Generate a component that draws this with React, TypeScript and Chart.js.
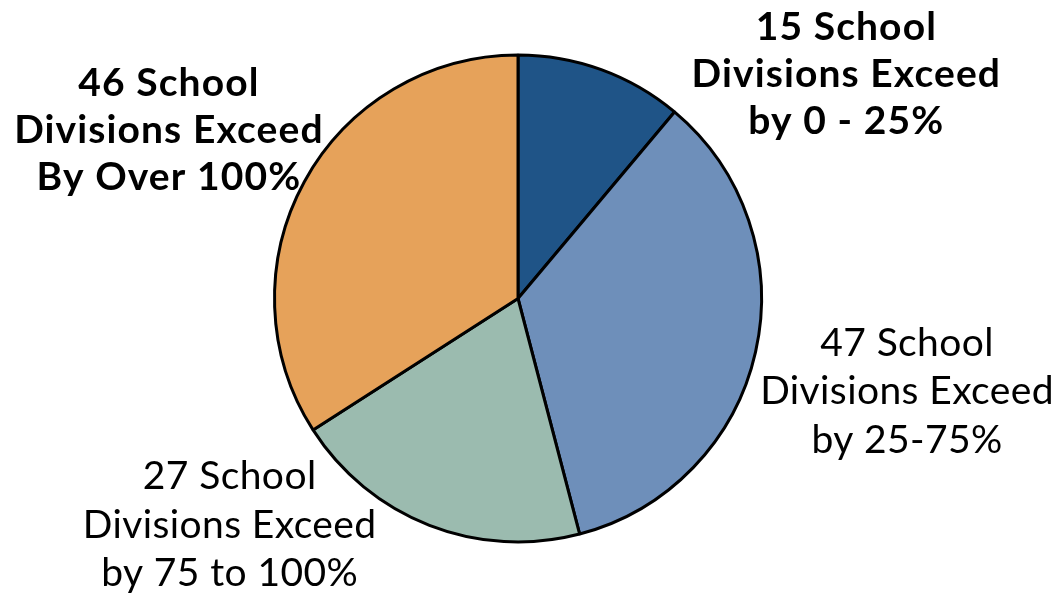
import React, { useEffect, useRef } from "react";
import { Chart, registerables } from "chart.js";

Chart.register(...registerables);

const categories = [
  ["15 School", "Divisions Exceed", "by 0 - 25%"],
  ["47 School", "Divisions Exceed", "by 25-75%"],
  ["27 School", "Divisions Exceed", "by 75 to 100%"],
  ["46 School", "Divisions Exceed", "By Over 100%"],
];
const values = [15, 47, 27, 46];
const colors = ["#1F5487", "#6E8FBA", "#9BBBAF", "#E6A25A"];
const boldLabels = [true, false, false, true];
// label anchors in units of pie radius relative to the pie centre
const labelAnchors = [
  [1.346, -0.922],
  [1.597, 0.383],
  [-1.185, 0.93],
  [-1.436, -0.691],
];

const labelPlugin = {
  id: "sliceLabels",
  afterDraw(chart: any) {
    const meta = chart.getDatasetMeta(0);
    const arc = meta.data[0];
    if (!arc) return;
    const cx = arc.x;
    const cy = arc.y;
    const r = arc.outerRadius;
    const ctx = chart.ctx;
    ctx.save();
    ctx.fillStyle = "#000";
    ctx.textAlign = "center";
    ctx.textBaseline = "middle";
    categories.forEach((lines, i) => {
      const bold = boldLabels[i];
      ctx.font = (bold ? "bold " : "") + "39px Lato";
      const sp = bold ? 1.1 : 0.4;
      (ctx as any).letterSpacing = sp + "px";
      const lh = bold ? 47 : 48.5;
      const x = cx + labelAnchors[i][0] * r + sp / 2;
      const y = cy + labelAnchors[i][1] * r;
      lines.forEach((t, j) => {
        ctx.fillText(t, x, y + (j - 1) * lh);
      });
    });
    ctx.restore();
  },
};

export default function App() {
  const ref = useRef<HTMLCanvasElement>(null);
  useEffect(() => {
    document.body.style.margin = "0";
    const chart = new Chart(ref.current!, {
      type: "pie",
      data: {
        labels: categories.map((c) => c.join(" ")),
        datasets: [
          {
            data: values,
            backgroundColor: colors,
            borderColor: "#000",
            borderWidth: 3,
          },
        ],
      },
      options: {
        responsive: false,
        animation: false,
        layout: { padding: { top: 53, bottom: 56, left: 273, right: 300 } },
        plugins: { legend: { display: false }, tooltip: { enabled: false } },
      },
      plugins: [labelPlugin],
    });
    return () => chart.destroy();
  }, []);
  return (
    <div style={{ width: 1063, height: 600 }}>
      <canvas ref={ref} width={1063} height={600} />
    </div>
  );
}
